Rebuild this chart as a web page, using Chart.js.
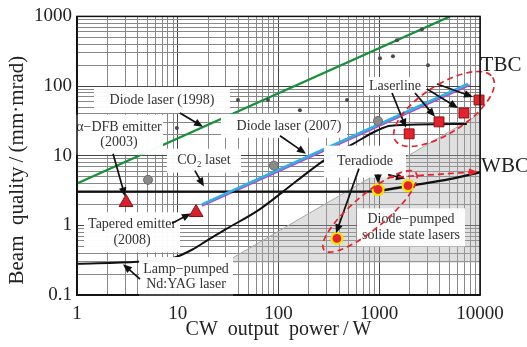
<!DOCTYPE html>
<html>
<head>
<meta charset="utf-8">
<script src="https://cdn.jsdelivr.net/npm/chart.js@4"></script>
<style>
  html, body { margin: 0; padding: 0; background: #fff; }
  #wrap { width: 527px; height: 347px; }
</style>
</head>
<body>
<div id="wrap"><canvas id="laserChart" width="527" height="347"></canvas></div>
<script>
// axis decades (CW output power / W, beam quality / mm·mrad)
const xDecades = [1, 10, 100, 1000, 10000];
const yDecades = [0.1, 1, 10, 100, 1000];

// lines
const diode1998 = [{x: 1, y: 4}, {x: 5040, y: 1000}];
const diode2007 = [{x: 17.4, y: 2.0}, {x: 7600, y: 107}];
const diode2007Under = [{x: 17.4, y: 1.9}, {x: 7900, y: 103}];
const co2Wbc = [{x: 1, y: 3.05}, {x: 700, y: 3.05}, {x: 1000, y: 3.15}, {x: 2000, y: 3.7}, {x: 5000, y: 4.6}, {x: 10000, y: 5.8}];
const lampNdYag = [{x: 1, y: 0.28}, {x: 4, y: 0.3}, {x: 9, y: 0.34}, {x: 14, y: 0.45}, {x: 20, y: 0.62}, {x: 30, y: 0.88},
  {x: 65, y: 1.7}, {x: 150, y: 4.3}, {x: 310, y: 9.4}, {x: 550, y: 14.8}, {x: 950, y: 23}, {x: 1300, y: 27}, {x: 7400, y: 28.5}];
const dpssEdge = [{x: 29, y: 0.29}, {x: 10000, y: 40}];

// markers
const dfbTapered = [{x: 3.07, y: 2.13}, {x: 15.2, y: 1.53}];
const laserline = [{x: 1980, y: 20.6}, {x: 3920, y: 30.6}, {x: 6930, y: 41}, {x: 9780, y: 63}];
const teradiode = [{x: 380, y: 0.65}, {x: 972, y: 3.27}, {x: 1930, y: 3.73}];
const otherSmall = [{x: 39.6, y: 63}, {x: 9.8, y: 25}, {x: 29.4, y: 20}, {x: 78.7, y: 63}, {x: 163, y: 45},
  {x: 479, y: 63}, {x: 1017, y: 251}, {x: 1368, y: 268}, {x: 3048, y: 199}, {x: 1500, y: 454}, {x: 2656, y: 652}];
const otherBig = [{x: 5.07, y: 4.5}, {x: 972, y: 31.6}, {x: 90, y: 7.2}];

// text notes: box centre in data units, box size in px
const notes = [
  {x: 6.98, y: 63.1, w: 136, h: 26, lines: ['Diode laser (1998)']},
  {x: 2.61, y: 19.95, w: 88, h: 40, lines: ['α−DFB emitter', '(2003)']},
  {x: 113.4, y: 26.8, w: 126, h: 24, dx: 5, lines: ['Diode laser (2007)']},
  {x: 18.2, y: 8.48, w: 74, h: 24, lines: ['CO₂ laset']},
  {x: 1433, y: 100, w: 62, h: 18, lines: ['Laserline']},
  {x: 722, y: 8.21, w: 82, h: 32, lines: ['Teradiode']},
  {x: 2066, y: 0.936, w: 108, h: 38, lines: ['Diode−pumped', 'solide state lasers']},
  {x: 3.52, y: 0.794, w: 96, h: 40, lines: ['Tapered emitter', '(2008)']},
  {x: 12.08, y: 0.181, w: 94, h: 40, lines: ['Lamp−pumped', 'Nd:YAG laser']}
];
const sideLabels = [
  {x: 16160, y: 199.5, text: 'TBC'},
  {x: 17700, y: 6.97, text: 'WBC'}
];
const arrows = [
  [10.5, 41.1, 17.8, 26], [2.28, 10.7, 3.0, 2.6], [103.5, 19.3, 187.5, 10.7], [14.8, 6.1, 18.2, 3.6],
  [8.77, 1.07, 13.5, 1.48], [4.22, 0.169, 2.86, 0.277],
  [1340, 79.4, 1844, 25.1], [2265, 79.4, 3575, 36.1], [2979, 90.6, 6050, 48.5], [3744, 106.8, 8525, 69.7],
  [629, 6.52, 372, 0.769], [972, 5.35, 972, 3.98], [1222, 5.35, 1802, 4.69]
];
const redArrow = [1222, 4.85, 9550, 5.9];
const groups = [
  {x: 4395, y: 46.9, rx: 58, ry: 24, rot: -33},
  {x: 809, y: 1.585, rx: 60, ry: 17, rot: -40}
];

const serif = "'Liberation Serif', 'DejaVu Serif', serif";

function decadeTicks(decades) {
  const out = [];
  for (let i = 0; i < decades.length - 1; i++) {
    for (let k = 1; k < 10; k++) out.push({value: k * decades[i]});
  }
  out.push({value: decades[decades.length - 1]});
  return out;
}
function isDecade(decades, v) {
  return decades.findIndex(d => Math.abs(d - v) < d * 1e-6);
}

function drawArrow(ctx, x1, y1, x2, y2, color, dash) {
  const a = Math.atan2(y2 - y1, x2 - x1), head = 9, half = 3.8;
  ctx.strokeStyle = color;
  ctx.fillStyle = color;
  ctx.lineWidth = 1.7;
  ctx.setLineDash(dash ? [6, 4] : []);
  ctx.beginPath();
  ctx.moveTo(x1, y1);
  ctx.lineTo(x2 - head * 0.8 * Math.cos(a), y2 - head * 0.8 * Math.sin(a));
  ctx.stroke();
  ctx.setLineDash([]);
  ctx.beginPath();
  ctx.moveTo(x2, y2);
  ctx.lineTo(x2 - head * Math.cos(a) + half * Math.sin(a), y2 - head * Math.sin(a) - half * Math.cos(a));
  ctx.lineTo(x2 - head * Math.cos(a) - half * Math.sin(a), y2 - head * Math.sin(a) + half * Math.cos(a));
  ctx.closePath();
  ctx.fill();
}

const notesPlugin = {
  id: 'notes',
  afterDatasetsDraw(chart) {
    const {ctx, chartArea: area} = chart;
    const sx = chart.scales.x, sy = chart.scales.y;
    const px = v => sx.getPixelForValue(v), py = v => sy.getPixelForValue(v);
    ctx.save();

    // white label boxes and text
    notes.forEach(n => {
      const cx = px(n.x), cy = py(n.y);
      ctx.fillStyle = 'rgba(255,255,255,0.96)';
      ctx.fillRect(cx - n.w / 2, cy - n.h / 2, n.w, n.h);
      ctx.fillStyle = '#333';
      ctx.font = '14px ' + serif;
      ctx.textAlign = 'center';
      ctx.textBaseline = 'middle';
      const step = 15.5;
      n.lines.forEach((t, i) => {
        ctx.fillText(t, cx + (n.dx || 0), cy + (i - (n.lines.length - 1) / 2) * step);
      });
    });

    // black arrows
    arrows.forEach(a => drawArrow(ctx, px(a[0]), py(a[1]), px(a[2]), py(a[3]), '#111', false));
    drawArrow(ctx, px(redArrow[0]), py(redArrow[1]), px(redArrow[2]), py(redArrow[3]), '#e5242a', true);

    // red dashed group ellipses
    ctx.strokeStyle = '#e5242a';
    ctx.lineWidth = 1.7;
    ctx.setLineDash([6, 4]);
    groups.forEach(g => {
      ctx.beginPath();
      ctx.ellipse(px(g.x), py(g.y), g.rx, g.ry, g.rot * Math.PI / 180, 0, Math.PI * 2);
      ctx.stroke();
    });
    ctx.setLineDash([]);

    // frame
    ctx.strokeStyle = '#111';
    ctx.lineWidth = 1.5;
    ctx.strokeRect(area.left, area.top, area.right - area.left, area.bottom - area.top);

    // TBC / WBC
    ctx.fillStyle = '#222';
    ctx.font = '21px ' + serif;
    ctx.textAlign = 'center';
    ctx.textBaseline = 'middle';
    sideLabels.forEach(s => ctx.fillText(s.text, px(s.x), py(s.y)));
    ctx.restore();
  }
};

const lineDs = (data, color, width, order) => ({
  data, showLine: true, borderColor: color, borderWidth: width, pointRadius: 0,
  fill: false, order, cubicInterpolationMode: 'monotone'
});

new Chart(document.getElementById('laserChart'), {
  type: 'scatter',
  data: {
    datasets: [
      Object.assign(lineDs(dpssEdge, '#a8a8a8', 1, 10), {fill: {value: 0.29}, backgroundColor: 'rgba(170,170,170,0.38)'}),
      lineDs(diode1998, '#17913a', 2.2, 6),
      lineDs(diode2007Under, '#c044c4', 2, 6),
      lineDs(diode2007, '#2ab4e6', 2.6, 5),
      lineDs(co2Wbc, '#111', 2.4, 5),
      lineDs(lampNdYag, '#111', 2, 5),
      {data: otherSmall, pointRadius: 2, pointBackgroundColor: '#4a4a4a', pointBorderWidth: 0, order: 4},
      {data: otherBig, pointRadius: 4.5, pointBackgroundColor: '#8a8a8a', pointBorderColor: '#6a6a6a', pointBorderWidth: 1, order: 4},
      {data: dfbTapered, pointStyle: 'triangle', pointRadius: 8, pointBackgroundColor: '#d7202b', pointBorderColor: '#8c1018', pointBorderWidth: 1, order: 1, clip: false},
      {data: laserline, pointStyle: 'rect', pointRadius: 7, pointBackgroundColor: '#e3232b', pointBorderColor: '#8c1018', pointBorderWidth: 1, order: 1, clip: false},
      {data: teradiode, pointRadius: 5.5, pointBackgroundColor: '#e3232b', pointBorderColor: '#f2e300', pointBorderWidth: 2.2, order: 1, clip: false}
    ]
  },
  options: {
    responsive: false,
    animation: false,
    events: [],
    layout: {padding: {top: 15, right: 47, left: 0, bottom: 0}},
    plugins: {legend: {display: false}, tooltip: {enabled: false}},
    scales: {
      x: {
        type: 'logarithmic', min: 1, max: 10000, position: 'bottom',
        afterBuildTicks: s => { s.ticks = decadeTicks(xDecades); },
        afterFit: s => { s.height = 52; },
        grid: {color: c => isDecade(xDecades, c.tick.value) >= 0 ? '#444' : '#888', lineWidth: 1, drawTicks: false},
        border: {color: '#111', width: 1.5},
        ticks: {
          autoSkip: false, maxRotation: 0, padding: 8, color: '#222', font: {family: serif, size: 19},
          callback: v => { const i = isDecade(xDecades, v); return i >= 0 ? String(xDecades[i]) : ''; }
        },
        title: {display: true, text: 'CW  output  power\u2009/\u2009W', color: '#222', font: {family: serif, size: 20}, padding: {top: 0, bottom: 5}}
      },
      y: {
        type: 'logarithmic', min: 0.1, max: 1000,
        afterBuildTicks: s => { s.ticks = decadeTicks(yDecades); },
        afterFit: s => { s.width = 77; },
        grid: {color: c => isDecade(yDecades, c.tick.value) >= 0 ? '#444' : '#888', lineWidth: 1, drawTicks: false},
        border: {color: '#111', width: 1.5},
        ticks: {
          autoSkip: false, padding: 5, color: '#222', font: {family: serif, size: 19},
          callback: v => { const i = isDecade(yDecades, v); return i >= 0 ? String(yDecades[i]) : ''; }
        },
        title: {display: true, align: 'start', text: '  Beam  quality\u2009/\u2009(mm·mrad)', color: '#222', font: {family: serif, size: 21}, padding: {top: 5, bottom: 0}}
      }
    }
  },
  plugins: [notesPlugin]
});
</script>
</body>
</html>
